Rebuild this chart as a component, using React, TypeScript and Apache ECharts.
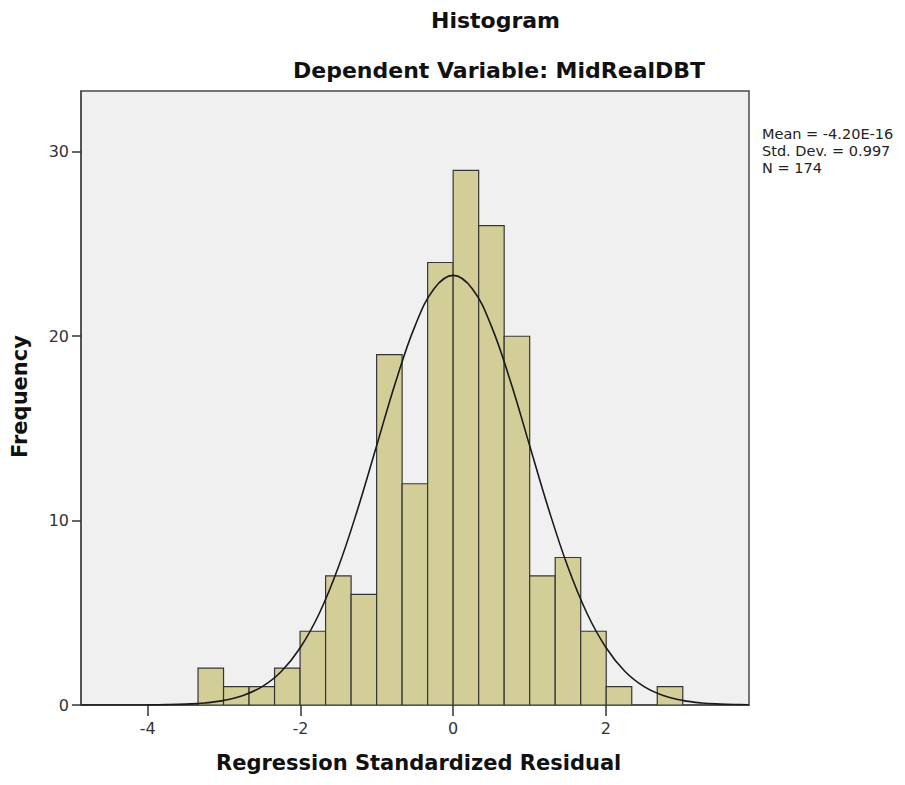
import React, { useEffect, useRef } from "react";
import * as echarts from "echarts";

// Histogram bins
const binStart = -3.34;
const binWidth = 0.334;
const counts = [2, 1, 1, 2, 4, 7, 6, 19, 12, 24, 29, 26, 20, 7, 8, 4, 1, 0, 1];

// Normal curve points
const curveX = [
  -4.87, -4.5, -4.0, -3.75, -3.5, -3.25, -3.0, -2.75, -2.5, -2.25, -2.0, -1.75, -1.5, -1.25, -1.0, -0.75, -0.5, -0.25,
  0, 0.25, 0.5, 0.75, 1.0, 1.25, 1.5, 1.75, 2.0, 2.25, 2.5, 2.75, 3.0, 3.25, 3.5, 3.75, 3.87,
];
const curveY = [
  0.0, 0.001, 0.007, 0.02, 0.05, 0.11, 0.25, 0.52, 1.0, 1.82, 3.12, 4.99, 7.51, 10.62, 14.09, 17.56, 20.55, 22.58,
  23.3, 22.58, 20.55, 17.56, 14.09, 10.62, 7.51, 4.99, 3.12, 1.82, 1.0, 0.52, 0.25, 0.11, 0.05, 0.02, 0.012,
];

const xTicks = [-4, -2, 0, 2];
const yTicks = [0, 10, 20, 30];
const statLines = ["Mean = -4.20E-16", "Std. Dev. = 0.997", "N = 174"];

const titleText = "Histogram";
const subtitleText = "Dependent Variable: MidRealDBT";
const xName = "Regression Standardized Residual";
const yName = "Frequency";

export default function App() {
  const ref = useRef<HTMLDivElement>(null);
  useEffect(() => {
    if (!ref.current) return;
    const chart = echarts.init(ref.current, null, { renderer: "svg" });
    const font = "DejaVu Sans";
    const binData = counts
      .map((c, i) => [binStart + i * binWidth, binStart + (i + 1) * binWidth, c])
      .filter((d) => d[2] > 0);
    const curveData = curveX.map((x, i) => [x, curveY[i]]);

    const statTexts = statLines.map((t, i) => ({
      type: "text",
      left: 762,
      top: 126 + i * 17,
      style: { text: t, font: `14.5px "${font}"`, fill: "#222" },
    }));

    chart.setOption({
      animation: false,
      backgroundColor: "#ffffff",
      textStyle: { fontFamily: font },
      grid: {
        left: 81,
        top: 91,
        width: 668,
        height: 614,
        show: true,
        backgroundColor: "#f0f0f0",
        borderColor: "#4a4a4a",
        borderWidth: 1.5,
        outerBoundsMode: "none",
        containLabel: false,
      },
      xAxis: {
        type: "value",
        min: -4.872,
        max: 3.873,
        splitLine: { show: false },
        axisLine: { show: true, onZero: false, lineStyle: { color: "#4a4a4a", width: 1.5 } },
        axisTick: { show: true, length: 11, customValues: xTicks, lineStyle: { color: "#333", width: 1.5 } },
        axisLabel: { customValues: xTicks, margin: 15, fontSize: 16, color: "#333", fontFamily: font },
      },
      yAxis: {
        type: "value",
        min: 0,
        max: 33.3,
        splitLine: { show: false },
        axisLine: { show: true, onZero: false, lineStyle: { color: "#4a4a4a", width: 1.5 } },
        axisTick: { show: true, length: 9, customValues: yTicks, lineStyle: { color: "#333", width: 1.5 } },
        axisLabel: { customValues: yTicks, margin: 12, fontSize: 16, color: "#333", fontFamily: font },
      },
      series: [
        {
          type: "custom",
          data: binData,
          encode: { x: [0, 1], y: 2 },
          clip: true,
          renderItem: (params: any, api: any) => {
            const x0 = api.value(0);
            const x1 = api.value(1);
            const y = api.value(2);
            const p0 = api.coord([x0, y]);
            const p1 = api.coord([x1, 0]);
            return {
              type: "rect",
              shape: { x: p0[0], y: p0[1], width: p1[0] - p0[0], height: p1[1] - p0[1] },
              style: { fill: "#d3ce97", stroke: "#363636", lineWidth: 1.2 },
            };
          },
          z: 2,
        },
        {
          type: "line",
          data: curveData,
          smooth: 0.4,
          showSymbol: false,
          symbol: "none",
          lineStyle: { color: "#1a1a1a", width: 1.6 },
          z: 3,
        },
      ],
      graphic: [
        {
          type: "text",
          left: 431,
          top: 9,
          style: { text: titleText, font: `bold 22px "${font}"`, fill: "#111" },
        },
        {
          type: "text",
          top: 59,
          left: 293,
          style: { text: subtitleText, font: `bold 22px "${font}"`, fill: "#111" },
        },
        {
          type: "text",
          left: 216,
          top: 752,
          style: { text: xName, font: `bold 21px "${font}"`, fill: "#111" },
        },
        {
          type: "text",
          x: 9,
          y: 458,
          rotation: Math.PI / 2,
          style: { text: yName, font: `bold 21px "${font}"`, fill: "#111", textAlign: "left", textVerticalAlign: "top" },
        },
        ...statTexts,
      ],
    });
    return () => chart.dispose();
  }, []);

  return (
    <div
      ref={ref}
      style={{ position: "fixed", left: 0, top: 0, width: 905, height: 785 }}
    />
  );
}
